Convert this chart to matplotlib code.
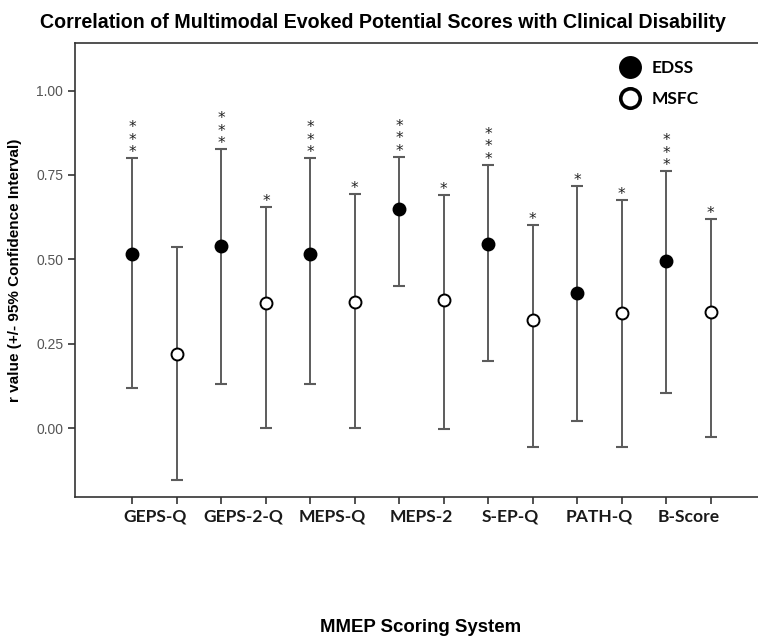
import matplotlib
matplotlib.use("Agg")
import matplotlib.pyplot as plt
import matplotlib.transforms as mtransforms
import numpy as np
from matplotlib.lines import Line2D

# Scoring systems and correlation results (r with 95% CI)
categories = ["GEPS-Q", "GEPS-2-Q", "MEPS-Q", "MEPS-2", "S-EP-Q", "PATH-Q", "B-Score"]

edss_r = [0.515, 0.54, 0.515, 0.65, 0.545, 0.40, 0.495]
edss_lo = [0.12, 0.13, 0.13, 0.42, 0.20, 0.02, 0.105]
edss_hi = [0.80, 0.827, 0.80, 0.804, 0.78, 0.717, 0.761]

msfc_r = [0.22, 0.37, 0.375, 0.38, 0.32, 0.34, 0.345]
msfc_lo = [-0.155, 0.00, 0.00, -0.003, -0.055, -0.055, -0.025]
msfc_hi = [0.538, 0.655, 0.694, 0.69, 0.602, 0.675, 0.62]

edss_sig = ["***", "***", "***", "***", "***", "*", "***"]
msfc_sig = ["", "*", "*", "*", "*", "*", "*"]

yticks = [0.00, 0.25, 0.50, 0.75, 1.00]

fig = plt.figure(figsize=(7.58, 6.37), dpi=100)
ax = fig.add_axes([75 / 758, 1 - 497 / 637, 1 - 75 / 758, (497 - 43) / 637])

n = len(categories)
x_edss = np.arange(n) * 2 + 1
x_msfc = x_edss + 1

bar_color = "#5c5c5c"


def draw_series(xs, r, lo, hi, face):
    r = np.array(r)
    lo = np.array(lo)
    hi = np.array(hi)
    ax.errorbar(xs, r, yerr=[r - lo, hi - r], fmt="none", ecolor=bar_color,
                elinewidth=1.4, capsize=4.2, capthick=1.5, zorder=2)
    ax.plot(xs, r, linestyle="none", marker="o", markersize=8.6,
            markerfacecolor=face, markeredgecolor="black", markeredgewidth=1.4,
            zorder=3)


draw_series(x_edss, edss_r, edss_lo, edss_hi, "black")
draw_series(x_msfc, msfc_r, msfc_lo, msfc_hi, "white")


# Significance stars stacked vertically above the upper CI limit
def draw_stars(xs, hi, sig):
    for xv, h, s in zip(xs, hi, sig):
        if not s:
            continue
        ax.annotate("\n".join(s), xy=(xv, h), xytext=(0, 0.8),
                    textcoords="offset points", ha="center", va="baseline",
                    multialignment="center", linespacing=0.78,
                    fontsize=11, family="DejaVu Sans", color="#222222")


draw_stars(x_edss, edss_hi, edss_sig)
draw_stars(x_msfc, msfc_hi, msfc_sig)

ax.set_xlim(-0.29, 15.06)
ax.set_ylim(-0.204, 1.141)

ax.set_yticks(yticks)
ax.set_yticklabels([f"{v:.2f}" for v in yticks], family="Liberation Sans",
                   fontsize=10, color="#555555")
ax.set_xticks(np.arange(1, 2 * n + 1))
ax.set_xticklabels([])
ax.tick_params(axis="both", direction="out", length=5, width=1.2, color="#333333")

# Category names centred under each EDSS/MSFC pair
label_tr = mtransforms.offset_copy(ax.transData, fig=fig, x=0, y=-12, units="dots")
for xv, name in zip(x_edss + 0.5, categories):
    ax.text(xv, -0.204, name, transform=label_tr, ha="center", va="top",
            fontsize=12.6, fontweight="bold", family="Lato", color="#1a1a1a",
            clip_on=False)

ax.spines["right"].set_visible(False)
for s in ["left", "bottom", "top"]:
    ax.spines[s].set_linewidth(1.2)
    ax.spines[s].set_color("#333333")

ax.set_ylabel("r value (+/- 95% Confidence Interval)", family="Liberation Sans",
              fontsize=11, fontweight="bold", labelpad=10)

fig.text(383 / 758, 1 - 22 / 637,
         "Correlation of Multimodal Evoked Potential Scores with Clinical Disability",
         ha="center", va="center", family="Liberation Sans", fontsize=14.1,
         fontweight="bold")
fig.text(421 / 758, 1 - 628 / 637, "MMEP Scoring System", ha="center", va="center",
         family="Liberation Sans", fontsize=13.4, fontweight="bold")

handles = [
    Line2D([], [], linestyle="none", marker="o", markersize=14.5,
           markerfacecolor="black", markeredgecolor="black", markeredgewidth=2),
    Line2D([], [], linestyle="none", marker="o", markersize=14,
           markerfacecolor="white", markeredgecolor="black", markeredgewidth=2.6),
]
leg = ax.legend(handles, ["EDSS", "MSFC"], loc="upper left",
                bbox_to_anchor=(620 / 758, 1 - 60 / 637),
                bbox_transform=fig.transFigure, frameon=False,
                handlelength=1.2, handletextpad=0.6,
                labelspacing=0.85, borderpad=0, borderaxespad=0,
                prop={"family": "Lato", "weight": "bold", "size": 12.5})

fig.savefig("out.png", dpi=100)
